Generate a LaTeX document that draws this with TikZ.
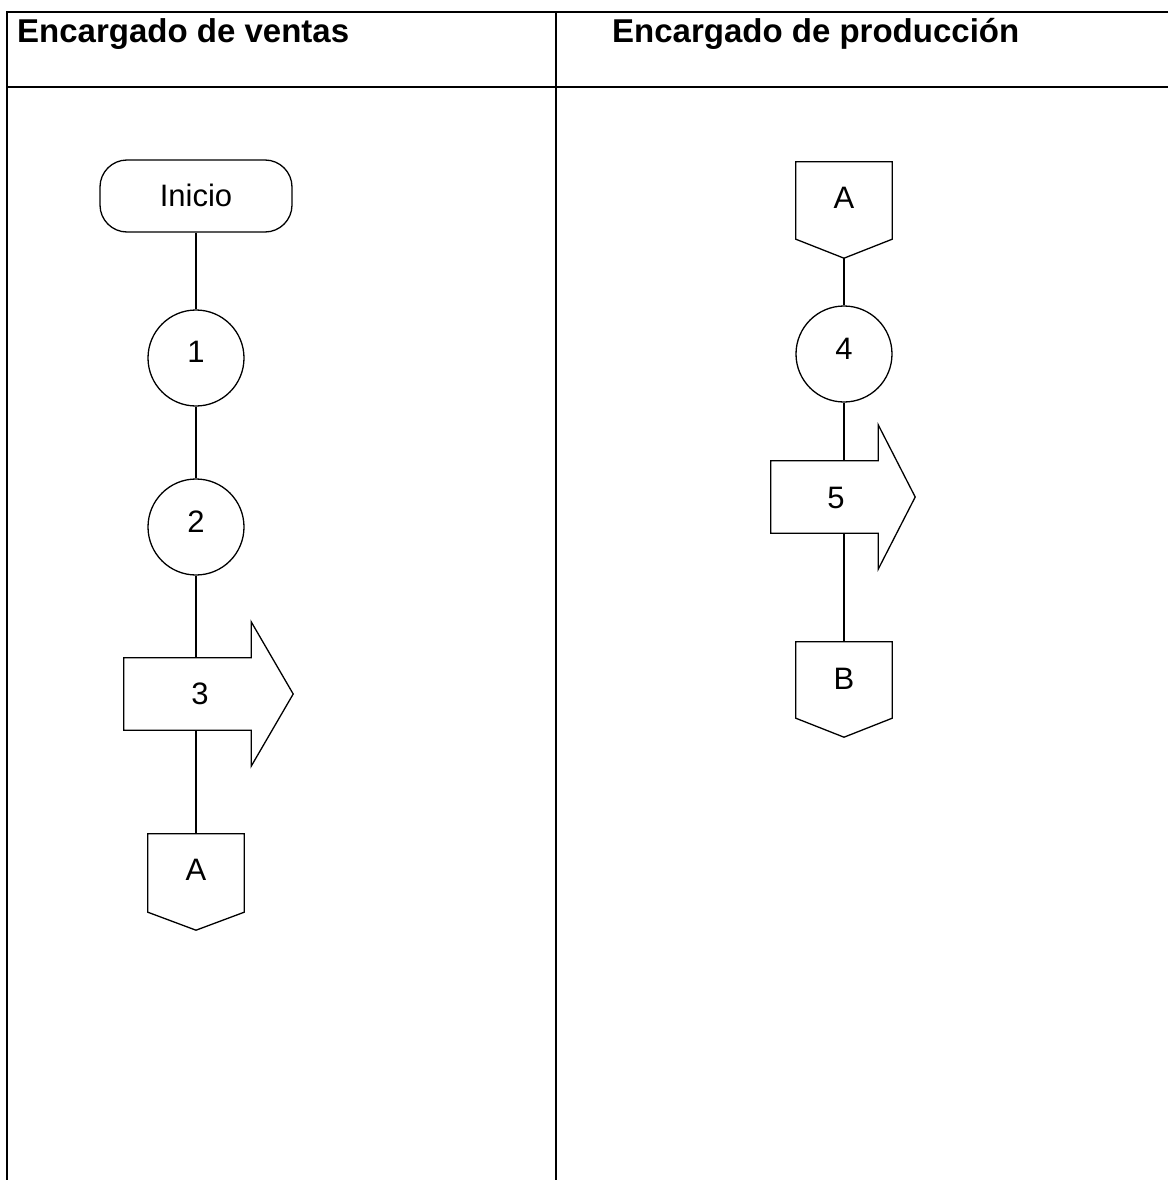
\documentclass[tikz,border=0pt]{standalone}
\usepackage{fontspec}
\setmainfont{Liberation Sans}
\usetikzlibrary{calc}
\begin{document}
\begin{tikzpicture}[x=1pt,y=-1pt,
  tbl/.style={line width=2.6pt},
  hdr/.style={anchor=base west, inner sep=0pt, font=\fontsize{33}{39}\selectfont\bfseries},
  shp/.style={line width=1.3pt},
  lbl/.style={font=\fontsize{31}{37}\selectfont, inner sep=0pt, text height=22pt},
  term/.style={lbl, draw, shp, rounded corners=27pt, minimum width=192pt, minimum height=72pt},
  oper/.style={lbl, draw, shp, circle, minimum size=96pt},
  bodybox/.style={lbl, minimum width=#1, minimum height=72pt},
  offp/.style={lbl, minimum width=96pt, minimum height=#1},
  conn/.style={shp}]
\useasboundingbox (0,0) rectangle (1168,1180);
% table
\draw[tbl] (1168,12) -- (7,12) -- (7,1180);
\draw[tbl] (7,87) -- (1168,87);
\draw[tbl] (556,12) -- (556,1180);
\node[hdr] (h1) at (17,43) {Encargado de ventas};
\node[hdr] (h2) at (612,43) {Encargado de producción};
% left column
\node[term] (ini) at (196,196) {Inicio};
\node[oper, text depth=14pt] (c1) at (196,358) {1};
\node[oper, text depth=12pt] (c2) at (196,527) {2};
\node[bodybox=127pt, text depth=2pt] (p3) at (187.5,694) {\hspace*{25pt}3};
\draw[shp] (p3.north west) -- (p3.north east) -- ([yshift=36pt]p3.north east) -- ([xshift=42pt]p3.east) -- ([yshift=-36pt]p3.south east) -- (p3.south east) -- (p3.south west) -- cycle;
\node[offp=78pt, text depth=8pt] (a1) at (196,873) {A};
\draw[shp] (a1.north west) -- (a1.north east) -- (a1.south east) -- ([yshift=-18pt]a1.south) -- (a1.south west) -- cycle;
\draw[conn] (ini.south) -- (c1.north);
\draw[conn] (c1.south) -- (c2.north);
\draw[conn] (c2.south) -- (c2.south |- p3.north);
\draw[conn] (p3.south -| a1.north) -- (a1.north);
% right column
\node[offp=77pt, text depth=6pt] (a2) at (844,200.5) {A};
\draw[shp] (a2.north west) -- (a2.north east) -- (a2.south east) -- ([yshift=-19pt]a2.south) -- (a2.south west) -- cycle;
\node[oper, text depth=12pt] (c4) at (844,354) {4};
\node[bodybox=107pt, text depth=0pt] (p5) at (824.5,497) {\hspace*{23pt}5};
\draw[shp] (p5.north west) -- (p5.north east) -- ([yshift=36pt]p5.north east) -- ([xshift=37pt]p5.east) -- ([yshift=-36pt]p5.south east) -- (p5.south east) -- (p5.south west) -- cycle;
\node[offp=76pt, text depth=4pt] (b1) at (844,680) {B};
\draw[shp] (b1.north west) -- (b1.north east) -- (b1.south east) -- ([yshift=-19pt]b1.south) -- (b1.south west) -- cycle;
\draw[conn] ([yshift=-19pt]a2.south) -- (c4.north);
\draw[conn] (c4.south) -- (c4.south |- p5.north);
\draw[conn] (p5.south -| b1.north) -- (b1.north);
\end{tikzpicture}
\end{document}
